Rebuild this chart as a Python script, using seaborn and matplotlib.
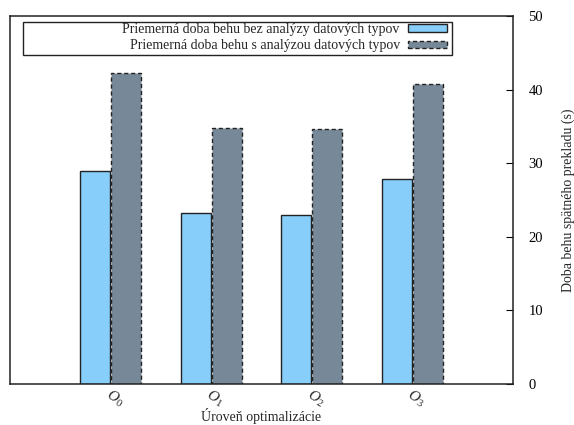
import matplotlib
matplotlib.use("Agg")
import matplotlib.pyplot as plt
import seaborn as sns
import pandas as pd
from matplotlib.patches import Patch, Rectangle

sns.set_style("white")
plt.rcParams['font.family'] = ['Liberation Serif', 'DejaVu Serif']
plt.rcParams['mathtext.fontset'] = 'custom'
plt.rcParams['mathtext.it'] = 'Liberation Serif:italic'
plt.rcParams['mathtext.rm'] = 'Liberation Serif'

categories = ["O0", "O1", "O2", "O3"]
tick_labels = [r"$O_0$", r"$O_1$", r"$O_2$", r"$O_3$"]
series_names = ["Priemerná doba behu bez analýzy datových typov",
                "Priemerná doba behu s analýzou datových typov"]
without_analysis = [29.0, 23.2, 22.9, 27.9]
with_analysis = [42.3, 34.8, 34.6, 40.8]
colors = ["#87CEFA", "#778899"]

df = pd.DataFrame({
    "level": categories * 2,
    "time": without_analysis + with_analysis,
    "series": [series_names[0]] * 4 + [series_names[1]] * 4,
})

fig = plt.figure(figsize=(5.74, 4.25), dpi=100)
ax = fig.add_axes([10 / 574, 1 - 384 / 425, 503 / 574, 368 / 425])

sns.barplot(data=df, x="level", y="time", hue="series", palette=colors,
            width=0.62, gap=0.04, ax=ax, legend=False, saturation=1)

n = len(categories)
for i, p in enumerate(ax.patches[:2 * n]):
    p.set_edgecolor("#222222")
    p.set_linewidth(1.0)
    if i < n:
        p.set_linestyle("-")
    else:
        p.set_linestyle((0, (3, 2)))

ax.set_xlim(-1, 4)
ax.set_ylim(0, 50)
ax.set_xticks(range(n))
ax.set_xticklabels(tick_labels, rotation=-30, ha="left", va="top",
                   rotation_mode="anchor", fontsize=11)
ax.tick_params(axis="x", length=0, pad=2)

ax.yaxis.tick_right()
ax.yaxis.set_label_position("right")
ax.set_yticks([0, 10, 20, 30, 40, 50])
ax.tick_params(axis="y", direction="in", length=5, width=0.8, pad=11,
               labelsize=10.5, right=True, left=False, colors="#000000")
ax.set_xlabel("Úroveň optimalizácie", fontsize=10)
ax.xaxis.set_label_coords(0.5, (384 - 408) / 368)
ax.set_ylabel("Doba behu spätného prekladu (s)", fontsize=10)
ax.yaxis.set_label_coords((562 - 10) / 503, 0.5)

for s in ax.spines.values():
    s.set_visible(True)
    s.set_color("#222222")
    s.set_linewidth(1.1)

# legend box (gnuplot style)
box_l = (23 - 10) / 503
box_r = (452 - 10) / 503
box_t = (384 - 22) / 368
box_b = (384 - 55) / 368
ax.add_patch(Rectangle((box_l, box_b), box_r - box_l, box_t - box_b,
                       transform=ax.transAxes, fill=False,
                       edgecolor="#222222", linewidth=1.0, zorder=5))

handles = [
    Patch(facecolor=colors[0], edgecolor="#222222", linewidth=1.0),
    Patch(facecolor=colors[1], edgecolor="#222222", linewidth=1.0,
          linestyle=(0, (3, 2))),
]
ax.legend(handles, series_names, loc="upper right",
          bbox_to_anchor=((447 - 10) / 503, (384 - 23) / 368),
          frameon=False, markerfirst=False, fontsize=10,
          handlelength=2.8, handleheight=0.45, handletextpad=0.6,
          labelspacing=0.25, borderpad=0, borderaxespad=0)

fig.savefig("out.png", dpi=100)
